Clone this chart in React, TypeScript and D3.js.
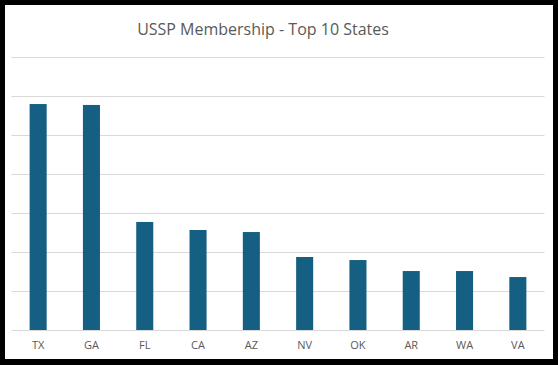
import React, { useRef, useEffect } from 'react';
import * as d3 from 'd3';

const states = ['TX', 'GA', 'FL', 'CA', 'AZ', 'NV', 'OK', 'AR', 'WA', 'VA'];
const members = [2897, 2885, 1385, 1282, 1256, 936, 897, 756, 756, 679];
const gridTicks = [0, 500, 1000, 1500, 2000, 2500, 3000, 3500];

const W = 558;
const H = 365;

const App: React.FC = () => {
  const svgRef = useRef<SVGSVGElement>(null);

  useEffect(() => {
    if (!svgRef.current) return;
    const svg = d3.select(svgRef.current);
    svg.selectAll('*').remove();

    const font = "'Open Sans', 'Noto Sans', sans-serif";
    const left = 11.5;
    const right = 544.5;
    const top = 57;
    const bottom = 330;

    // frame
    svg.append('rect').attr('width', W).attr('height', H).attr('fill', '#000');
    svg.append('rect')
      .attr('x', 5).attr('y', 5)
      .attr('width', 548).attr('height', 354)
      .attr('fill', '#fff');

    const x = d3.scaleBand<string>()
      .domain(states)
      .range([left, right])
      .paddingInner(0.68)
      .paddingOuter(0.34);

    const y = d3.scaleLinear()
      .domain([0, 3500])
      .range([bottom, top]);

    // gridlines
    svg.append('g')
      .selectAll('line')
      .data(gridTicks)
      .enter().append('line')
      .attr('x1', left)
      .attr('x2', right)
      .attr('y1', d => Math.round(y(d)) + 0.5)
      .attr('y2', d => Math.round(y(d)) + 0.5)
      .attr('stroke', '#d9d9d9')
      .attr('stroke-width', 1);

    // bars
    svg.append('g')
      .selectAll('rect')
      .data(members)
      .enter().append('rect')
      .attr('x', (d, i) => x(states[i]) as number)
      .attr('width', x.bandwidth())
      .attr('y', d => y(d))
      .attr('height', d => bottom - y(d))
      .attr('fill', '#156082');

    // category labels
    svg.append('g')
      .selectAll('text')
      .data(states)
      .enter().append('text')
      .attr('x', d => (x(d) as number) + x.bandwidth() / 2)
      .attr('y', 349)
      .attr('text-anchor', 'middle')
      .attr('font-family', font)
      .attr('font-size', 11)
      .attr('fill', '#595959')
      .text(d => d);

    // title
    svg.append('text')
      .attr('x', 263)
      .attr('y', 35)
      .attr('text-anchor', 'middle')
      .attr('font-family', font)
      .attr('font-size', 16)
      .attr('fill', '#595959')
      .text('USSP Membership - Top 10 States');
  }, []);

  return (
    <div style={{ position: 'absolute', left: 0, top: 0 }}>
      <svg ref={svgRef} width={W} height={H} style={{ display: 'block' }} />
    </div>
  );
};

export default App;
